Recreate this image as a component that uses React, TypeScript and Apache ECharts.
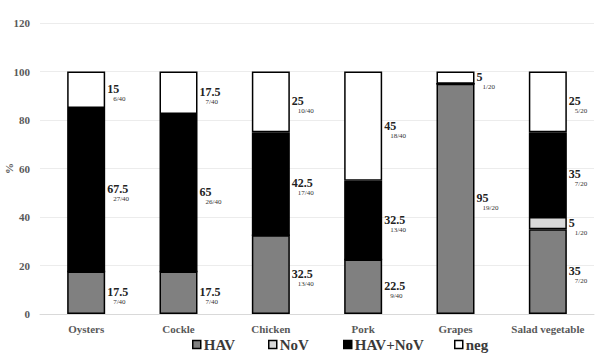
import React, { useEffect, useRef } from "react";
import * as echarts from "echarts";

const categories = ["Oysters", "Cockle", "Chicken", "Pork", "Grapes", "Salad vegetable"];
const seriesNames = ["HAV", "NoV", "HAV+NoV", "neg"];
const havValues = [17.5, 17.5, 32.5, 22.5, 95, 35];
const novValues = [0, 0, 0, 0, 0, 5];
const bothValues = [67.5, 65, 42.5, 32.5, 0, 35];
const negValues = [15, 17.5, 25, 45, 5, 25];
const havCounts = ["7/40", "7/40", "13/40", "9/40", "19/20", "7/20"];
const novCounts = ["", "", "", "", "", "1/20"];
const bothCounts = ["27/40", "26/40", "17/40", "13/40", "", "7/20"];
const negCounts = ["6/40", "7/40", "10/40", "18/40", "1/20", "5/20"];
const yTicks = [0, 20, 40, 60, 80, 100, 120];

const colors = ["#808080", "#d9d9d9", "#000000", "#ffffff"];
const legendLefts = [187, 263, 338, 449];
const serif = "'Liberation Serif', 'Times New Roman', serif";

export default function App() {
  const ref = useRef<HTMLDivElement>(null);
  useEffect(() => {
    if (!ref.current) return;
    const chart = echarts.init(ref.current, null, { renderer: "svg" });
    const values = [havValues, novValues, bothValues, negValues];
    const counts = [havCounts, novCounts, bothCounts, negCounts];
    const series = seriesNames.map((name, si) => ({
      name,
      type: "bar",
      stack: "total",
      barWidth: 38,
      itemStyle: { color: colors[si], borderColor: "#000", borderWidth: 1.5 },
      data: values[si].map((v, i) => ({
        value: v,
        label: {
          show: v > 0,
          position: "right",
          distance: 2,
          offset: [0, 4],
          formatter: `{v|${v}}\n{f|${counts[si][i]}}`,
          rich: {
            v: { fontFamily: serif, fontSize: 12, fontWeight: "bold", color: "#222", lineHeight: 11 },
            f: { fontFamily: serif, fontSize: 7, color: "#333", padding: [0, 0, 0, 6], lineHeight: 9 },
          },
        },
      })),
    }));
    const legends = seriesNames.map((name, i) => ({
      data: [name],
      left: legendLefts[i],
      top: 332,
      icon: "rect",
      itemWidth: 8,
      itemHeight: 8,
      itemGap: 4,
      itemStyle: { borderColor: "#000", borderWidth: 1.5 },
      textStyle: { fontFamily: serif, fontSize: 15, fontWeight: "bold", color: "#3a3a3a", padding: [0, 0, 0, -2] },
    }));
    chart.setOption({
      animation: false,
      backgroundColor: "#fff",
      textStyle: { fontFamily: serif },
      grid: { left: 40, right: 8, top: 23, bottom: 46, outerBoundsMode: "none", containLabel: false },
      legend: legends,
      xAxis: {
        type: "category",
        data: categories,
        axisLine: { lineStyle: { color: "#d9d9d9" } },
        axisTick: { show: false },
        axisLabel: { interval: 0, fontFamily: serif, fontSize: 11, fontWeight: "bold", color: "#595959", margin: 9 },
      },
      yAxis: {
        type: "value",
        min: yTicks[0],
        max: yTicks[yTicks.length - 1],
        interval: 20,
        name: "%",
        nameLocation: "middle",
        nameGap: 26,
        nameRotate: 90,
        nameMoveOverlap: false,
        nameTextStyle: { fontFamily: serif, fontSize: 11, fontWeight: "bold", color: "#595959" },
        axisLine: { show: false },
        axisTick: { show: false },
        splitLine: { lineStyle: { color: "#ececec" } },
        axisLabel: { fontFamily: serif, fontSize: 11, fontWeight: "bold", color: "#595959", margin: 10 },
      },
      series,
    });
    return () => chart.dispose();
  }, []);
  return <div ref={ref} style={{ width: 602, height: 360, position: "absolute", left: 0, top: 0 }} />;
}
